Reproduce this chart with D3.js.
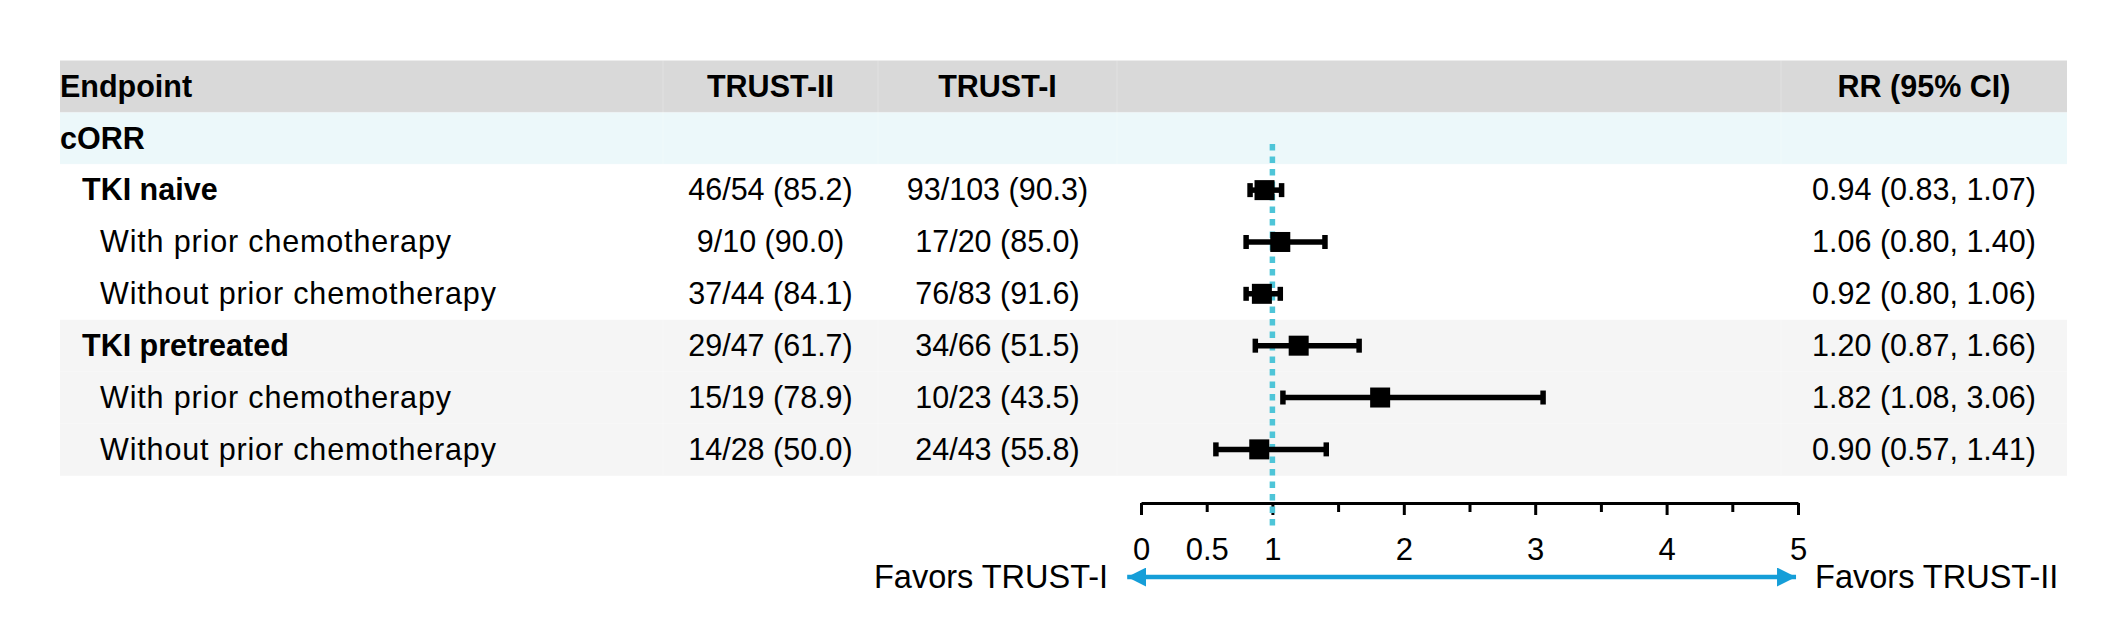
<!DOCTYPE html>
<html>
<head>
<meta charset="utf-8">
<script src="https://cdn.jsdelivr.net/npm/d3@7"></script>
<style>
  html, body { margin: 0; padding: 0; background: #ffffff; }
  svg { display: block; }
  text { font-family: "Liberation Sans", Arial, Helvetica, sans-serif; fill: #000; }
</style>
</head>
<body>
<svg id="chart" width="2127" height="632"></svg>
<script>
// ---------------- data ----------------
const headers = ["Endpoint", "TRUST-II", "TRUST-I", "RR (95% CI)"];
const labels = ["cORR", "TKI naive", "With prior chemotherapy", "Without prior chemotherapy",
                "TKI pretreated", "With prior chemotherapy", "Without prior chemotherapy"];
const levels = [0, 1, 2, 2, 1, 2, 2];
const groups = ["endpoint", "naive", "naive", "naive", "pretreated", "pretreated", "pretreated"];
const trust2 = ["", "46/54 (85.2)", "9/10 (90.0)", "37/44 (84.1)", "29/47 (61.7)", "15/19 (78.9)", "14/28 (50.0)"];
const trust1 = ["", "93/103 (90.3)", "17/20 (85.0)", "76/83 (91.6)", "34/66 (51.5)", "10/23 (43.5)", "24/43 (55.8)"];
const rr = [null, 0.94, 1.06, 0.92, 1.20, 1.82, 0.90];
const rrLow = [null, 0.83, 0.80, 0.80, 0.87, 1.08, 0.57];
const rrHigh = [null, 1.07, 1.40, 1.06, 1.66, 3.06, 1.41];
const tickValues = [0, 0.5, 1, 1.5, 2, 2.5, 3, 3.5, 4, 4.5, 5];
const tickLabels = {0: "0", 0.5: "0.5", 1: "1", 2: "2", 3: "3", 4: "4", 5: "5"};
const favorLeft = "Favors TRUST-I";
const favorRight = "Favors TRUST-II";

// ---------------- layout ----------------
const svg = d3.select("#chart");
const FS = 30.5;
const tableLeft = 60, tableRight = 2067;
const colEdges = [tableLeft, 663, 878, 1117, 1781, tableRight];
const colCenter = i => (colEdges[i] + colEdges[i + 1]) / 2;

const rowIdx = d3.range(labels.length + 1); // 0 = header
const y = d3.scaleBand().domain(rowIdx).range([60.5, 475.3]).paddingInner(0).paddingOuter(0);
const x = d3.scaleLinear().domain([0, 5]).range([1141, 1798]);

const bgColor = {header: "#d9d9d9", endpoint: "#ecf8fa", naive: "#ffffff", pretreated: "#f5f5f5"};

// row backgrounds
const rowsData = rowIdx.map(i => ({i, g: i === 0 ? "header" : groups[i - 1]}));
svg.append("g").selectAll("rect").data(rowsData).join("rect")
  .attr("x", tableLeft).attr("width", tableRight - tableLeft)
  .attr("y", d => y(d.i)).attr("height", y.bandwidth() + 0.5)
  .attr("fill", d => bgColor[d.g]);

// faint cell borders
const gridG = svg.append("g").attr("stroke", "#ffffff").attr("stroke-opacity", 0.25).attr("stroke-width", 1);
colEdges.slice(1, -1).forEach(cx => {
  gridG.append("line").attr("x1", cx).attr("x2", cx).attr("y1", y(0)).attr("y2", y(labels.length) + y.bandwidth());
});
rowIdx.slice(1).forEach(i => {
  gridG.append("line").attr("x1", tableLeft).attr("x2", tableRight).attr("y1", y(i)).attr("y2", y(i));
});

// header text
const hy = y(0) + y.bandwidth() / 2;
const hdr = svg.append("g").attr("font-size", FS).attr("font-weight", "bold");
hdr.append("text").attr("x", tableLeft).attr("y", hy).attr("dy", "0.34em").text(headers[0]);
hdr.append("text").attr("x", colCenter(1)).attr("y", hy).attr("dy", "0.34em").attr("text-anchor", "middle").text(headers[1]);
hdr.append("text").attr("x", colCenter(2)).attr("y", hy).attr("dy", "0.34em").attr("text-anchor", "middle").text(headers[2]);
hdr.append("text").attr("x", colCenter(4)).attr("y", hy).attr("dy", "0.34em").attr("text-anchor", "middle").text(headers[3]);

// body rows
const indent = [0, 22, 40];
const rowY = i => y(i + 1) + y.bandwidth() / 2;
const body = svg.append("g").attr("font-size", FS);
labels.forEach((lab, i) => {
  body.append("text").attr("x", tableLeft + indent[levels[i]]).attr("y", rowY(i)).attr("dy", "0.34em")
    .attr("font-weight", levels[i] < 2 ? "bold" : "normal")
    .attr("letter-spacing", levels[i] < 2 ? 0 : 0.85)
    .text(lab);
  if (trust2[i]) body.append("text").attr("x", colCenter(1)).attr("y", rowY(i)).attr("dy", "0.34em")
    .attr("text-anchor", "middle").text(trust2[i]);
  if (trust1[i]) body.append("text").attr("x", colCenter(2)).attr("y", rowY(i)).attr("dy", "0.34em")
    .attr("text-anchor", "middle").text(trust1[i]);
  if (rr[i] != null) body.append("text").attr("x", colCenter(4)).attr("y", rowY(i)).attr("dy", "0.34em")
    .attr("text-anchor", "middle")
    .text(`${rr[i].toFixed(2)} (${rrLow[i].toFixed(2)}, ${rrHigh[i].toFixed(2)})`);
});

// axis
const axisY = 503;
const axis = d3.axisBottom(x).tickValues(tickValues).tickSizeOuter(0).tickSizeInner(11)
  .tickFormat(d => tickLabels[d] !== undefined ? tickLabels[d] : "");
const ax = svg.append("g").attr("transform", `translate(0,${axisY})`).call(axis);
ax.select(".domain").attr("stroke", "#000").attr("stroke-width", 3);
ax.selectAll(".tick line").attr("stroke", "#000").attr("stroke-width", 3)
  .attr("y2", d => Number.isInteger(d) ? 12 : 9);
ax.selectAll(".tick text").attr("font-size", 31).attr("font-family", "'Liberation Sans', Arial, sans-serif")
  .attr("fill", "#000").attr("y", 0).attr("dy", "57px");

// reference dashed line at RR = 1
svg.append("line")
  .attr("x1", x(1)).attr("x2", x(1)).attr("y1", 144).attr("y2", 528)
  .attr("stroke", "#4ec5d8").attr("stroke-width", 5.5).attr("stroke-dasharray", "6.5,6");

// error bars & squares
const markers = svg.append("g");
rr.forEach((v, i) => {
  if (v == null) return;
  const cy = rowY(i);
  markers.append("line").attr("x1", x(rrLow[i])).attr("x2", x(rrHigh[i])).attr("y1", cy).attr("y2", cy)
    .attr("stroke", "#000").attr("stroke-width", 5.5);
  [rrLow[i], rrHigh[i]].forEach(e => {
    markers.append("line").attr("x1", x(e)).attr("x2", x(e)).attr("y1", cy - 7).attr("y2", cy + 7)
      .attr("stroke", "#000").attr("stroke-width", 5.5);
  });
  markers.append("rect").attr("x", x(v) - 10).attr("y", cy - 10).attr("width", 20).attr("height", 20).attr("fill", "#000");
});

// favors arrow
const arrowY = 577;
const blue = "#159ed8";
const defs = svg.append("defs");
["start", "end"].forEach(k => {
  defs.append("marker").attr("id", "arr-" + k).attr("viewBox", "0 0 10 10")
    .attr("refX", 10).attr("refY", 5).attr("markerUnits", "userSpaceOnUse")
    .attr("markerWidth", 19).attr("markerHeight", 19)
    .attr("orient", k === "start" ? "auto-start-reverse" : "auto")
    .append("path").attr("d", "M0,0 L10,5 L0,10 Z").attr("fill", blue);
});
svg.append("line").attr("x1", x(-0.105)).attr("x2", x(4.985)).attr("y1", arrowY).attr("y2", arrowY)
  .attr("stroke", blue).attr("stroke-width", 4.5)
  .attr("marker-start", "url(#arr-start)").attr("marker-end", "url(#arr-end)");

const fav = svg.append("g").attr("font-size", 32.5);
fav.append("text").attr("x", x(-0.25)).attr("y", arrowY).attr("dy", "0.35em").attr("text-anchor", "end").text(favorLeft);
fav.append("text").attr("x", x(5.13)).attr("y", arrowY).attr("dy", "0.35em").attr("text-anchor", "start").text(favorRight);
</script>
</body>
</html>
